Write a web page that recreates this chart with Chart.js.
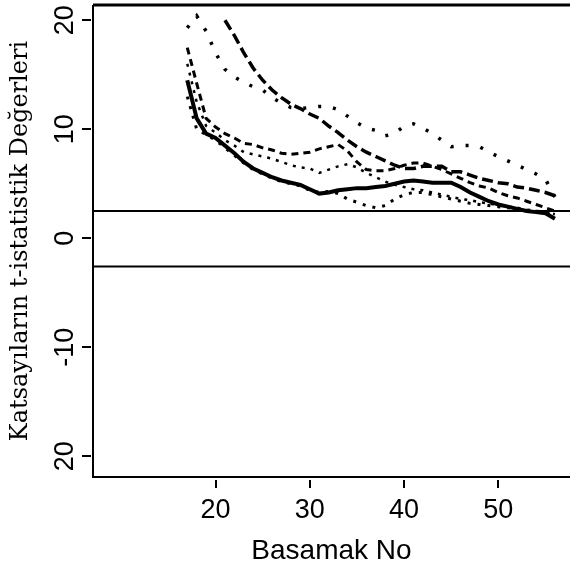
<!DOCTYPE html>
<html>
<head>
<meta charset="utf-8">
<script src="https://cdn.jsdelivr.net/npm/chart.js@4.4.1/dist/chart.umd.min.js"></script>
<style>
  html, body { margin: 0; padding: 0; background: #ffffff; }
  #wrap { width: 570px; height: 575px; }
</style>
</head>
<body>
<div id="wrap"><canvas id="c" width="570" height="575"></canvas></div>
<script>
// Basamak No (step numbers)
const steps = [17,18,19,20,21,22,23,24,25,26,27,28,29,30,31,32,33,34,35,36,37,38,39,40,41,42,43,44,45,46,47,48,49,50,51,52,53,54,55,56];

// solid series
const seriesSolid = [14.5,11.0,9.6,9.2,8.5,7.8,7.0,6.4,6.0,5.6,5.3,5.1,4.9,4.5,4.1,4.2,4.4,4.5,4.6,4.6,4.7,4.8,5.0,5.2,5.3,5.2,5.1,5.1,5.1,4.7,4.2,3.8,3.4,3.1,2.9,2.7,2.5,2.4,2.3,1.8];
// long-dash series (starts at step 21)
const longDashSteps = [21,22,23,24,25,26,27,28,29,30,31,32,33,34,35,36,37,38,39,40,41,42,43,44,45,46,47,48,49,50,51,52,53,54,55,56];
const seriesLongDash = [20.0,18.6,17.0,15.6,14.5,13.6,12.9,12.3,11.9,11.4,11.0,10.3,9.7,9.0,8.4,7.9,7.5,7.1,6.7,6.4,6.4,6.6,6.6,6.6,6.1,6.1,5.8,5.5,5.3,5.1,5.0,4.7,4.6,4.4,4.2,3.9];
// sparse dotted upper series
const seriesSparseDot = [19.3,20.4,19.0,17.0,15.5,14.8,14.3,13.9,13.6,12.9,12.4,12.0,11.9,12.0,12.1,12.1,11.8,11.2,10.6,10.1,9.9,9.4,9.6,10.3,10.5,10.1,9.6,9.0,8.4,8.5,8.5,8.4,7.9,7.5,7.1,6.7,6.3,5.9,5.4,3.8];
// medium-dash middle series
const seriesMidDash = [17.5,14.2,11.0,10.2,9.6,9.2,8.7,8.6,8.3,8.1,7.8,7.7,7.8,7.9,8.2,8.4,8.6,8.0,7.0,6.3,6.2,6.2,6.4,6.7,6.9,6.9,6.6,6.3,5.9,5.5,5.1,4.8,4.6,4.2,3.9,3.7,3.4,3.1,2.8,2.5];
// dotted middle series
const seriesMidDot = [16.0,12.5,10.3,9.7,9.0,8.5,7.9,7.7,7.5,7.3,7.0,6.7,6.5,6.4,6.0,6.3,6.6,6.8,6.5,6.0,5.6,5.2,4.9,4.7,4.5,4.4,4.2,4.0,3.8,3.6,3.5,3.3,3.2,3.0,2.9,2.8,2.6,2.5,2.4,2.2];
// dotted lower series
const seriesLowDot = [13.0,10.0,9.5,9.0,8.3,7.6,6.9,6.3,5.9,5.5,5.2,5.0,4.8,4.4,4.2,4.3,4.1,3.6,3.3,3.0,2.8,3.0,3.6,4.0,4.2,4.2,4.0,3.8,3.6,3.4,3.2,3.1,3.0,2.9,2.8,2.7,2.6,2.5,2.4,2.0];

// critical t values (horizontal reference lines)
const critUpper = 2.5;
const critLower = -2.6;

// axis settings
const xMin = 7, xMax = 57.6;
const yMin = -21.9, yMax = 21.4;
const xTickValues = [20, 30, 40, 50];
const xTickLabels = ["20", "30", "40", "50"];
const yTickValues = [-20, -10, 0, 10, 20];
const yTickLabels = ["20", "-10", "0", "10", "20"];

function pts(xs, ys) { return xs.map((x, i) => ({ x: x, y: ys[i] })); }

const base = { pointRadius: 0, borderColor: '#000', backgroundColor: '#000', fill: false, tension: 0, borderCapStyle: 'butt' };

const datasets = [
  Object.assign({}, base, { label: 'crit+', data: [{x: xMin, y: critUpper}, {x: xMax, y: critUpper}], borderWidth: 2 }),
  Object.assign({}, base, { label: 'crit-', data: [{x: xMin, y: critLower}, {x: xMax, y: critLower}], borderWidth: 2 }),
  Object.assign({}, base, { label: 'low dot', data: pts(steps, seriesLowDot), borderWidth: 3, borderDash: [3, 7] }),
  Object.assign({}, base, { label: 'mid dot', data: pts(steps, seriesMidDot), borderWidth: 2.5, borderDash: [3, 6] }),
  Object.assign({}, base, { label: 'mid dash', data: pts(steps, seriesMidDash), borderWidth: 3, borderDash: [7, 5] }),
  Object.assign({}, base, { label: 'sparse dot', data: pts(steps, seriesSparseDot), borderWidth: 3.5, borderDash: [3, 12] }),
  Object.assign({}, base, { label: 'long dash', data: pts(longDashSteps, seriesLongDash), borderWidth: 3.5, borderDash: [11, 5] }),
  Object.assign({}, base, { label: 'solid', data: pts(steps, seriesSolid), borderWidth: 4 })
];

const frame = {
  id: 'frame',
  afterDraw(chart) {
    const ctx = chart.ctx, a = chart.chartArea;
    const xs = chart.scales.x, ys = chart.scales.y;
    ctx.save();
    ctx.strokeStyle = '#000';
    ctx.lineCap = 'butt';
    // top border
    ctx.lineWidth = 3;
    ctx.beginPath(); ctx.moveTo(a.left, a.top); ctx.lineTo(a.right, a.top); ctx.stroke();
    // left + bottom axes
    ctx.lineWidth = 2;
    ctx.beginPath(); ctx.moveTo(a.left, a.top); ctx.lineTo(a.left, a.bottom); ctx.lineTo(a.right, a.bottom); ctx.stroke();
    // tick marks (detached from axis)
    ctx.lineWidth = 2;
    xs.ticks.forEach(t => {
      const px = Math.round(xs.getPixelForValue(t.value));
      ctx.beginPath(); ctx.moveTo(px, a.bottom + 3); ctx.lineTo(px, a.bottom + 11); ctx.stroke();
    });
    ys.ticks.forEach(t => {
      const py = Math.round(ys.getPixelForValue(t.value));
      ctx.beginPath(); ctx.moveTo(a.left - 11, py); ctx.lineTo(a.left - 2, py); ctx.stroke();
    });
    ctx.restore();
  }
};

new Chart(document.getElementById('c'), {
  type: 'line',
  data: { datasets },
  options: {
    responsive: false,
    animation: false,
    layout: { padding: { top: 5, right: 0, left: 0, bottom: 0 } },
    plugins: { legend: { display: false }, tooltip: { enabled: false } },
    scales: {
      x: {
        type: 'linear', min: xMin, max: xMax,
        grid: { display: false, drawTicks: false },
        border: { display: false },
        afterBuildTicks: s => { s.ticks = xTickValues.map(v => ({ value: v })); },
        afterFit: s => { s.height = 98; s.paddingLeft = 0; s.paddingRight = 0; },
        ticks: {
          padding: 17, color: '#000',
          font: { family: 'Liberation Sans', size: 27 },
          maxRotation: 0, minRotation: 0, autoSkip: false,
          callback: (v) => { const i = xTickValues.indexOf(v); return i >= 0 ? xTickLabels[i] : ''; }
        },
        title: {
          display: true, text: 'Basamak No', color: '#000',
          font: { family: 'Liberation Sans', size: 28 },
          padding: { top: 0, bottom: 7 }
        }
      },
      y: {
        type: 'linear', min: yMin, max: yMax,
        grid: { display: false, drawTicks: false },
        border: { display: false },
        afterBuildTicks: s => { s.ticks = yTickValues.map(v => ({ value: v })); },
        afterFit: s => { s.width = 93; s.paddingTop = 0; s.paddingBottom = 0; },
        ticks: {
          padding: 8, color: '#000', crossAlign: 'center',
          font: { family: 'Liberation Sans', size: 27 },
          minRotation: 90, maxRotation: 90, autoSkip: false,
          callback: (v) => { const i = yTickValues.indexOf(v); return i >= 0 ? yTickLabels[i] : ''; }
        },
        title: {
          display: true, text: 'Katsayıların t-istatistik Değerleri', color: '#000',
          font: { family: 'DejaVu Serif', size: 24 },
          padding: { top: 6, bottom: 0 }
        }
      }
    }
  },
  plugins: [frame]
});
</script>
</body>
</html>
